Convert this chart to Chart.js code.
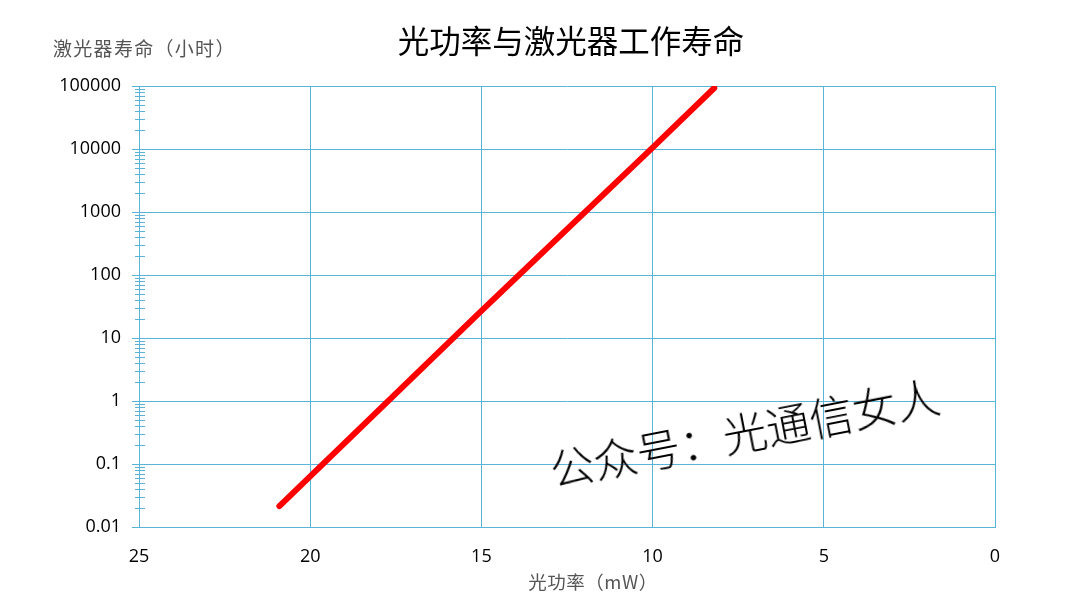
<!DOCTYPE html>
<html lang="zh-CN">
<head>
<meta charset="utf-8">
<script src="https://cdn.jsdelivr.net/npm/chart.js@4/dist/chart.umd.min.js"></script>
<style>
  html, body { margin: 0; padding: 0; background: #fff; }
  #wrap { position: relative; width: 1080px; height: 608px; }
  .txt { position: absolute; white-space: nowrap; font-family: "Noto Sans CJK SC", sans-serif; line-height: 1; }
  #title { left: 571px; top: 24px; transform: translateX(-50%); font-size: 31.5px; color: #000; font-weight: 400; }
  #ytitle { left: 53px; top: 38px; font-size: 19px; color: #555; letter-spacing: 1.3px; }
  #xtitle { left: 593px; top: 572px; transform: translateX(-50%); font-size: 18.5px; color: #555; letter-spacing: 0.5px; }
  #mark { left: 550px; top: 447px; font-size: 44px; color: #000; transform-origin: 0 50%;
          transform: rotate(-11deg); font-weight: 300; }
</style>
</head>
<body>
<div id="wrap">
  <canvas id="chart0" width="1080" height="608"></canvas>
  <div class="txt" id="title">光功率与激光器工作寿命</div>
  <div class="txt" id="ytitle">激光器寿命（小时）</div>
  <div class="txt" id="xtitle">光功率（mW）</div>
  <div class="txt" id="mark">公众号：光通信女人</div>
</div>
<script>
// 光功率 (mW) 与寿命 (小时)
const powerValues = [20.9, 15, 10, 8.2];
const lifetimeValues = [0.0215, 27, 10500, 93000];

const powerTicks = [25, 20, 15, 10, 5, 0];
const lifetimeTicks = [0.01, 0.1, 1, 10, 100, 1000, 10000, 100000];
const minorSteps = [2, 3, 4, 5, 6, 7, 8, 9];

const gridColor = '#5ab4d8';

// 次刻度：画在 y 轴线两侧的短线
const minorTickPlugin = {
  id: 'minorTicks',
  afterDraw(chart) {
    const y = chart.scales.y;
    const ctx = chart.ctx;
    const x0 = chart.chartArea.left;
    ctx.save();
    ctx.strokeStyle = gridColor;
    ctx.lineWidth = 1;
    y.ticks.forEach(t => {
      if (t.major) return;
      const py = Math.round(y.getPixelForValue(t.value)) + 0.5;
      ctx.beginPath();
      ctx.moveTo(x0 - 4, py);
      ctx.lineTo(x0 + 6, py);
      ctx.stroke();
    });
    ctx.restore();
  }
};

const ctx = document.getElementById('chart0').getContext('2d');
const chart = new Chart(ctx, {
  type: 'line',
  data: {
    datasets: [{
      data: powerValues.map((p, i) => ({ x: p, y: lifetimeValues[i] })),
      borderColor: '#ff0000',
      borderWidth: 6,
      borderCapStyle: 'round',
      pointRadius: 0,
      tension: 0,
      fill: false
    }]
  },
  options: {
    responsive: false,
    animation: false,
    layout: { padding: { top: 86, right: 85, left: 0, bottom: 0 } },
    plugins: {
      legend: { display: false },
      tooltip: { enabled: false }
    },
    scales: {
      x: {
        type: 'linear',
        reverse: true,
        min: 0,
        max: 25,
        afterBuildTicks: s => { s.ticks = powerTicks.map(v => ({ value: v })); },
        afterFit: s => { s.height = 81; },
        grid: { color: gridColor, drawTicks: false },
        border: { color: gridColor },
        ticks: {
          padding: 19,
          color: '#000',
          font: { family: 'Open Sans', size: 18 }
        }
      },
      y: {
        type: 'logarithmic',
        min: 0.01,
        max: 100000,
        afterBuildTicks: s => {
          const ticks = [];
          lifetimeTicks.forEach((v, i) => {
            ticks.push({ value: v, major: true });
            if (i < lifetimeTicks.length - 1) {
              minorSteps.forEach(m => ticks.push({ value: v * m, major: false }));
            }
          });
          s.ticks = ticks;
        },
        afterFit: s => { s.width = 139; },
        grid: {
          color: c => (c.tick && c.tick.major ? gridColor : 'rgba(0,0,0,0)'),
          tickColor: c => (c.tick && c.tick.major ? gridColor : 'rgba(0,0,0,0)'),
          tickLength: 7
        },
        border: { color: gridColor },
        ticks: {
          autoSkip: false,
          padding: 11,
          color: '#000',
          font: { family: 'Open Sans', size: 18 },
          callback: function (value, index, ticks) {
            return ticks[index].major ? String(value) : '';
          }
        }
      }
    }
  },
  plugins: [minorTickPlugin]
});
</script>
</body>
</html>
